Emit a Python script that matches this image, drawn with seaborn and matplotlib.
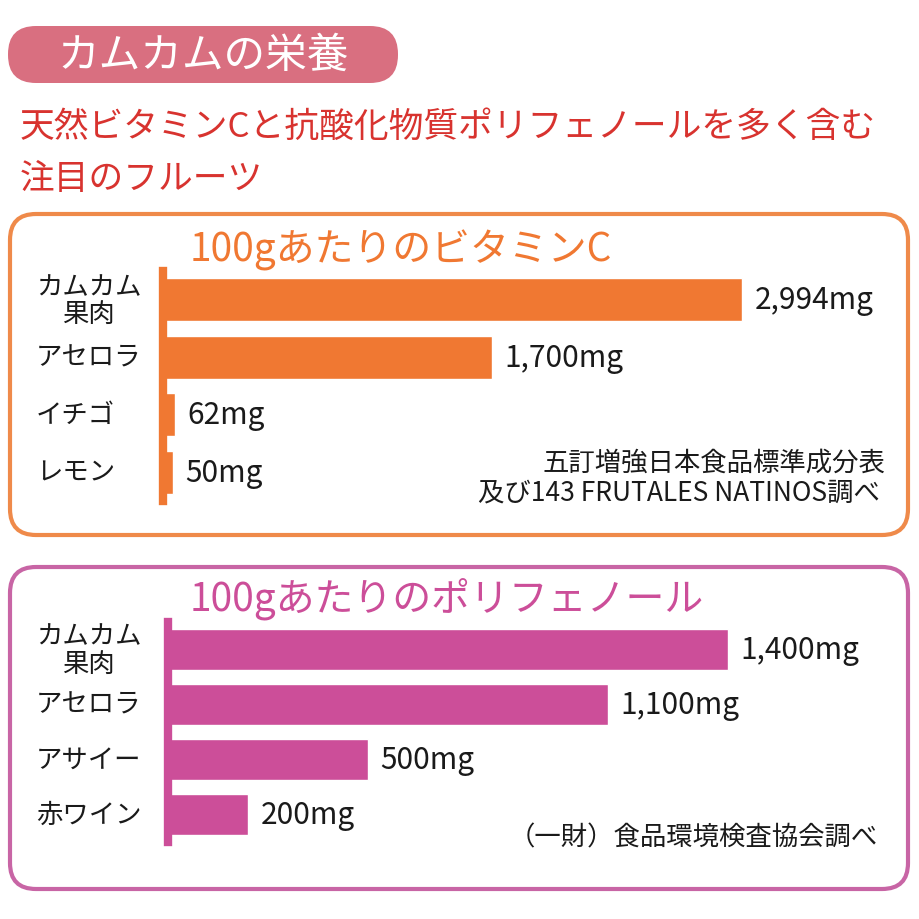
import numpy as np
import pandas as pd
import matplotlib
matplotlib.use('Agg')
import matplotlib.pyplot as plt
import matplotlib.transforms as mtransforms
from matplotlib.patches import FancyBboxPatch
import seaborn as sns

### data ############################################
vc_fruits = ['カムカム\n果肉', 'アセロラ', 'イチゴ', 'レモン']
vc_values = [2994, 1700, 62, 50]
pp_fruits = ['カムカム\n果肉', 'アセロラ', 'アサイー', '赤ワイン']
pp_values = [1400, 1100, 500, 200]

header = 'カムカムの栄養'
subtitle = ['天然ビタミンCと抗酸化物質ポリフェノールを多く含む', '注目のフルーツ']
vc_title = '100gあたりのビタミンC'
pp_title = '100gあたりのポリフェノール'
vc_source = ['五訂増強日本食品標準成分表', '及び143 FRUTALES NATINOS調べ']
pp_source = '（一財）食品環境検査協会調べ'

### style ############################################
sns.set_theme(style='white')
plt.rcParams['font.family'] = ['Noto Sans CJK JP', 'DejaVu Sans']

ORANGE = '#f07832'
ORANGE_BOX = '#ef8a4a'
PINK = '#cc4e99'
PINK_BOX = '#c865a5'
PILL = '#d96f80'
RED = '#d8332f'
INK = '#1a1a1a'
W = 920.0

def fx(px): return px / W
def fy(py): return 1 - py / W

fig = plt.figure(figsize=(9.2, 9.2), dpi=100)
fig.patch.set_facecolor('white')

# header pill + subtitle
fig.add_artist(FancyBboxPatch((fx(8), fy(84)), 390 / W, 57 / W,
                              boxstyle='round,pad=0,rounding_size=%f' % (28 / W),
                              transform=fig.transFigure, fc=PILL, ec='none'))
fig.text(fx(203), fy(56), header, color='white', fontsize=30, ha='center', va='center')
fig.text(fx(20), fy(127), subtitle[0], color=RED, fontsize=25, ha='left', va='center')
fig.text(fx(20), fy(180), subtitle[1], color=RED, fontsize=25, ha='left', va='center')

# panel frames
fig.add_artist(FancyBboxPatch((fx(10), fy(536)), 898 / W, 321 / W,
                              boxstyle='round,pad=0,rounding_size=%f' % (26 / W),
                              transform=fig.transFigure, fill=False, ec=ORANGE_BOX, lw=3))
fig.add_artist(FancyBboxPatch((fx(10), fy(890)), 898 / W, 322 / W,
                              boxstyle='round,pad=0,rounding_size=%f' % (26 / W),
                              transform=fig.transFigure, fill=False, ec=PINK_BOX, lw=3))

def draw_panel(rect, fruits, values, xmax, color, title, title_y):
    ax = fig.add_axes(rect)
    df = pd.DataFrame({'fruit': fruits, 'value': values})
    sns.barplot(data=df, x='value', y='fruit', orient='h', color=color,
                saturation=1, width=0.74, ax=ax)
    ax.set_xlim(0, xmax)
    ax.set_ylim(len(fruits) - 0.5, -0.5)
    ax.set_facecolor('none')
    for s in ['top', 'right', 'bottom']:
        ax.spines[s].set_visible(False)
    ax.spines['left'].set_linewidth(6)
    ax.spines['left'].set_color(color)
    ax.set_xticks([]); ax.set_yticks([])
    ax.set_xlabel(''); ax.set_ylabel('')
    ax.bar_label(ax.containers[0], labels=['{:,}mg'.format(v) for v in values],
                 padding=9, fontsize=21.5, color=INK)
    trans = mtransforms.blended_transform_factory(fig.transFigure, ax.transData)
    for i, name in enumerate(fruits):
        ax.text(fx(36), i, name, transform=trans, ha='left', va='center',
                fontsize=19, multialignment='center', linespacing=1.0, color=INK)
    fig.text(fx(190), fy(title_y), title, color=color, fontsize=28, ha='left', va='center')
    return ax

ax1 = draw_panel([fx(163), fy(502), 700 / W, 230 / W], vc_fruits, vc_values, 3620,
                 ORANGE, vc_title, 250)
ax2 = draw_panel([fx(168), fy(843), 700 / W, 220 / W], pp_fruits, pp_values, 1750,
                 PINK, pp_title, 599)

# sources
fig.text(fx(885), fy(463), vc_source[0], fontsize=19, ha='right', va='center', color=INK)
fig.text(fx(880), fy(493), vc_source[1], fontsize=19, ha='right', va='center', color=INK,
         family=['Liberation Sans Narrow', 'Noto Sans CJK JP'])
fig.text(fx(878), fy(838), pp_source, fontsize=19, ha='right', va='center', color=INK)

fig.savefig('out.png', dpi=100, facecolor='white')
